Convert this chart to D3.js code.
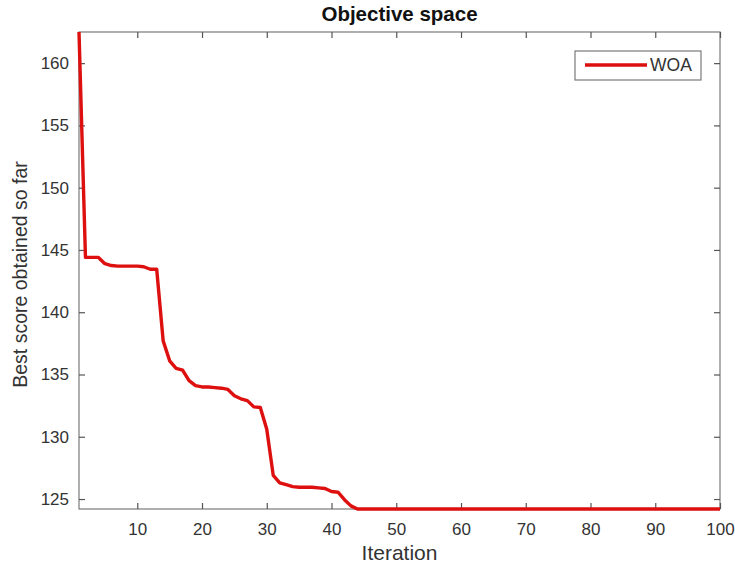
<!DOCTYPE html>
<html>
<head>
<meta charset="utf-8">
<script src="https://cdn.jsdelivr.net/npm/d3@7"></script>
<style>
  html, body { margin: 0; padding: 0; background: #fff; }
  svg { display: block; }
  text { font-family: "Liberation Sans", Arial, Helvetica, sans-serif; fill: #333; }
</style>
</head>
<body>
<svg id="chart" width="735" height="567"></svg>
<script>
// Convergence curve of WOA: best score per iteration
const seriesName = "WOA";
const bestScore = [
  162.5, 144.4, 144.4, 144.4, 143.9, 143.75, 143.7, 143.7, 143.7, 143.7,
  143.65, 143.45, 143.45, 137.7, 136.1, 135.5, 135.35, 134.5, 134.1, 134.0,
  134.0, 133.95, 133.9, 133.8, 133.3, 133.05, 132.9, 132.4, 132.35, 130.6,
  126.9, 126.3, 126.15, 126.0, 125.95, 125.95, 125.95, 125.9, 125.85, 125.6,
  125.55, 124.95, 124.45, 124.2, 124.2, 124.2, 124.2, 124.2, 124.2, 124.2,
  124.2, 124.2, 124.2, 124.2, 124.2, 124.2, 124.2, 124.2, 124.2, 124.2,
  124.2, 124.2, 124.2, 124.2, 124.2, 124.2, 124.2, 124.2, 124.2, 124.2,
  124.2, 124.2, 124.2, 124.2, 124.2, 124.2, 124.2, 124.2, 124.2, 124.2,
  124.2, 124.2, 124.2, 124.2, 124.2, 124.2, 124.2, 124.2, 124.2, 124.2,
  124.2, 124.2, 124.2, 124.2, 124.2, 124.2, 124.2, 124.2, 124.2, 124.2
];
const iterations = bestScore.map((_, i) => i + 1);
const xTicks = [10, 20, 30, 40, 50, 60, 70, 80, 90, 100];
const yTicks = [125, 130, 135, 140, 145, 150, 155, 160];

const svg = d3.select("#chart");
const plotL = 79, plotR = 720, plotT = 32, plotB = 509;

const x = d3.scaleLinear().domain([1, 100]).range([plotL, plotR]);
const y = d3.scaleLinear().domain([124.2, 162.5]).range([plotB, plotT]);

const frameColor = "#7a7a7a";
const lineColor = "#dd0f0f";
const tickLen = 6;

// frame
svg.append("rect")
  .attr("x", plotL).attr("y", plotT)
  .attr("width", plotR - plotL).attr("height", plotB - plotT)
  .attr("fill", "none").attr("stroke", frameColor).attr("stroke-width", 1.2);

// axes with inward ticks on all four sides
function styleAxis(g) {
  g.select(".domain").remove();
  g.selectAll(".tick line").attr("stroke", "#555").attr("stroke-width", 1.2);
  g.selectAll(".tick text")
    .style("font-size", "17px")
    .style("fill", "#333")
    .style("font-family", "'Liberation Sans', Arial, sans-serif");
}

svg.append("g")
  .attr("transform", `translate(0,${plotB})`)
  .call(d3.axisBottom(x).tickValues(xTicks).tickSizeInner(-tickLen).tickSizeOuter(0).tickPadding(14))
  .call(styleAxis);

svg.append("g")
  .attr("transform", `translate(0,${plotT})`)
  .call(d3.axisTop(x).tickValues(xTicks).tickSizeInner(-tickLen).tickSizeOuter(0).tickFormat(""))
  .call(styleAxis);

svg.append("g")
  .attr("transform", `translate(${plotL},0)`)
  .call(d3.axisLeft(y).tickValues(yTicks).tickSizeInner(-tickLen).tickSizeOuter(0).tickPadding(10))
  .call(styleAxis);

svg.append("g")
  .attr("transform", `translate(${plotR},0)`)
  .call(d3.axisRight(y).tickValues(yTicks).tickSizeInner(-tickLen).tickSizeOuter(0).tickFormat(""))
  .call(styleAxis);

// convergence line
const line = d3.line()
  .x((d, i) => x(iterations[i]))
  .y(d => y(d));

svg.append("path")
  .datum(bestScore)
  .attr("d", line)
  .attr("fill", "none")
  .attr("stroke", lineColor)
  .attr("stroke-width", 3.4)
  .attr("stroke-linejoin", "round");

// title and axis labels
svg.append("text")
  .attr("x", (plotL + plotR) / 2).attr("y", 21)
  .attr("text-anchor", "middle")
  .style("font-size", "20.5px").style("font-weight", "bold").style("fill", "#111")
  .text("Objective space");

svg.append("text")
  .attr("x", (plotL + plotR) / 2).attr("y", 560)
  .attr("text-anchor", "middle")
  .style("font-size", "21px")
  .text("Iteration");

svg.append("text")
  .attr("transform", `translate(27,${(plotT + plotB) / 2 + 4}) rotate(-90)`)
  .attr("text-anchor", "middle")
  .style("font-size", "19.5px")
  .text("Best score obtained so far");

// legend
const lg = svg.append("g");
lg.append("rect")
  .attr("x", 575).attr("y", 51).attr("width", 126).attr("height", 29)
  .attr("fill", "#fff").attr("stroke", frameColor).attr("stroke-width", 1.2);
lg.append("line")
  .attr("x1", 585).attr("x2", 647).attr("y1", 65).attr("y2", 65)
  .attr("stroke", lineColor).attr("stroke-width", 3.4);
lg.append("text")
  .attr("x", 650).attr("y", 71)
  .style("font-size", "17.5px")
  .text(seriesName);
</script>
</body>
</html>
